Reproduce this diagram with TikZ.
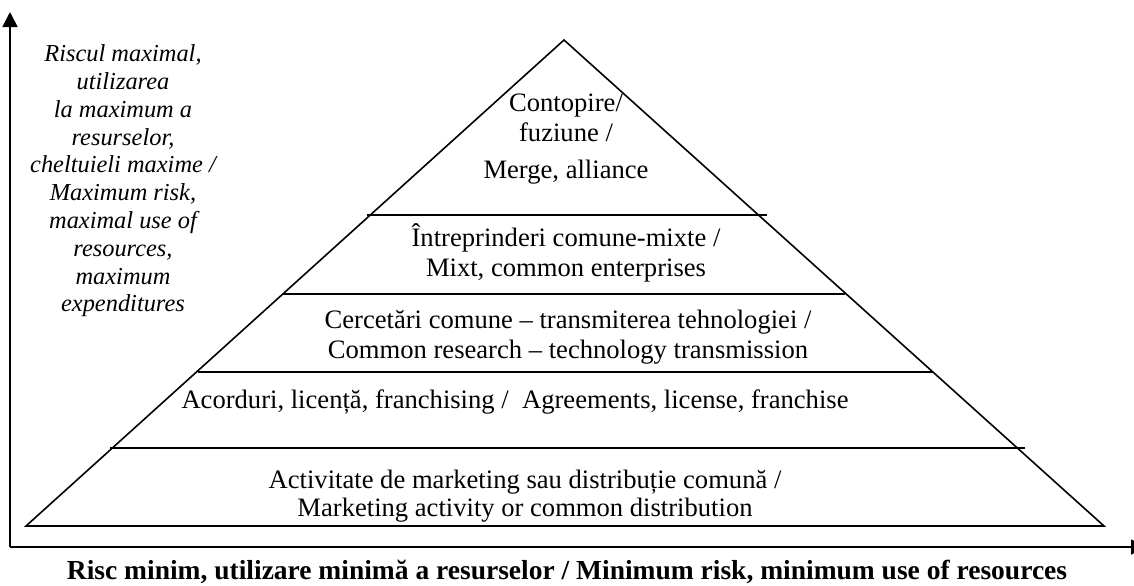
\documentclass[tikz,border=0pt]{standalone}
\usepackage{fontspec}
\setmainfont{Liberation Serif}
\usetikzlibrary{arrows.meta}

\begin{document}
\begin{tikzpicture}[x=0.5pt,y=-0.5pt,
  layer/.style={inner sep=0pt,align=center,font=\fontsize{13.3}{15}\selectfont},
  divider/.style={line width=1.1pt},
  axis/.style={line width=0.9pt,-{Triangle[length=7.5pt,width=7.5pt]}}]
\useasboundingbox (0,0) rectangle (1134,585);

% axes
\coordinate (origin) at (10,547);
\coordinate (ytop) at (10,12);
\coordinate (xend) at (1146,547);
\draw[axis] (origin) -- (ytop);
\draw[axis] (origin) -- (xend);

% pyramid
\coordinate (apex) at (564,40);
\coordinate (baseL) at (26,526);
\coordinate (baseR) at (1104,526);
\draw[line width=0.8pt] (baseL) -- (apex) -- (baseR) -- cycle;
\foreach \y/\a/\b in {215/367/767, 294/283/845, 372/198/933, 448/110/1025}
{
	\draw[divider] (\a,\y) -- (\b,\y);
}

% levels
\node[layer] (merge) at (566,139.5) {Contopire/\\fuziune /\\[3.5pt]Merge, alliance};
\node[layer] (joint) at (566,253) {Întreprinderi comune-mixte /\\Mixt, common enterprises};
\node[layer] (research) at (568,337.5) {Cercetări comune – transmiterea tehnologiei /\\Common research – technology transmission};
\node[layer] (licence) at (515,402) {Acorduri, licență, franchising /\ \ Agreements, license, franchise};
\node[layer,font=\fontsize{13.3}{14}\selectfont] (marketing) at (525,496) {Activitate de marketing sau distribuție comună /\\Marketing activity or common distribution};

% axis labels
\node[layer,font=\itshape\fontsize{12.2}{13.9}\selectfont] (maxrisk) at (123,181) {Riscul maximal,\\utilizarea\\la maximum a\\resurselor,\\cheltuieli maxime /\\Maximum risk,\\maximal use of\\resources,\\maximum\\expenditures};
\node[layer,font=\bfseries\fontsize{13.75}{15}\selectfont] (minrisk) at (567,572) {Risc minim, utilizare minimă a resurselor / Minimum risk, minimum use of resources};
\end{tikzpicture}
\end{document}
